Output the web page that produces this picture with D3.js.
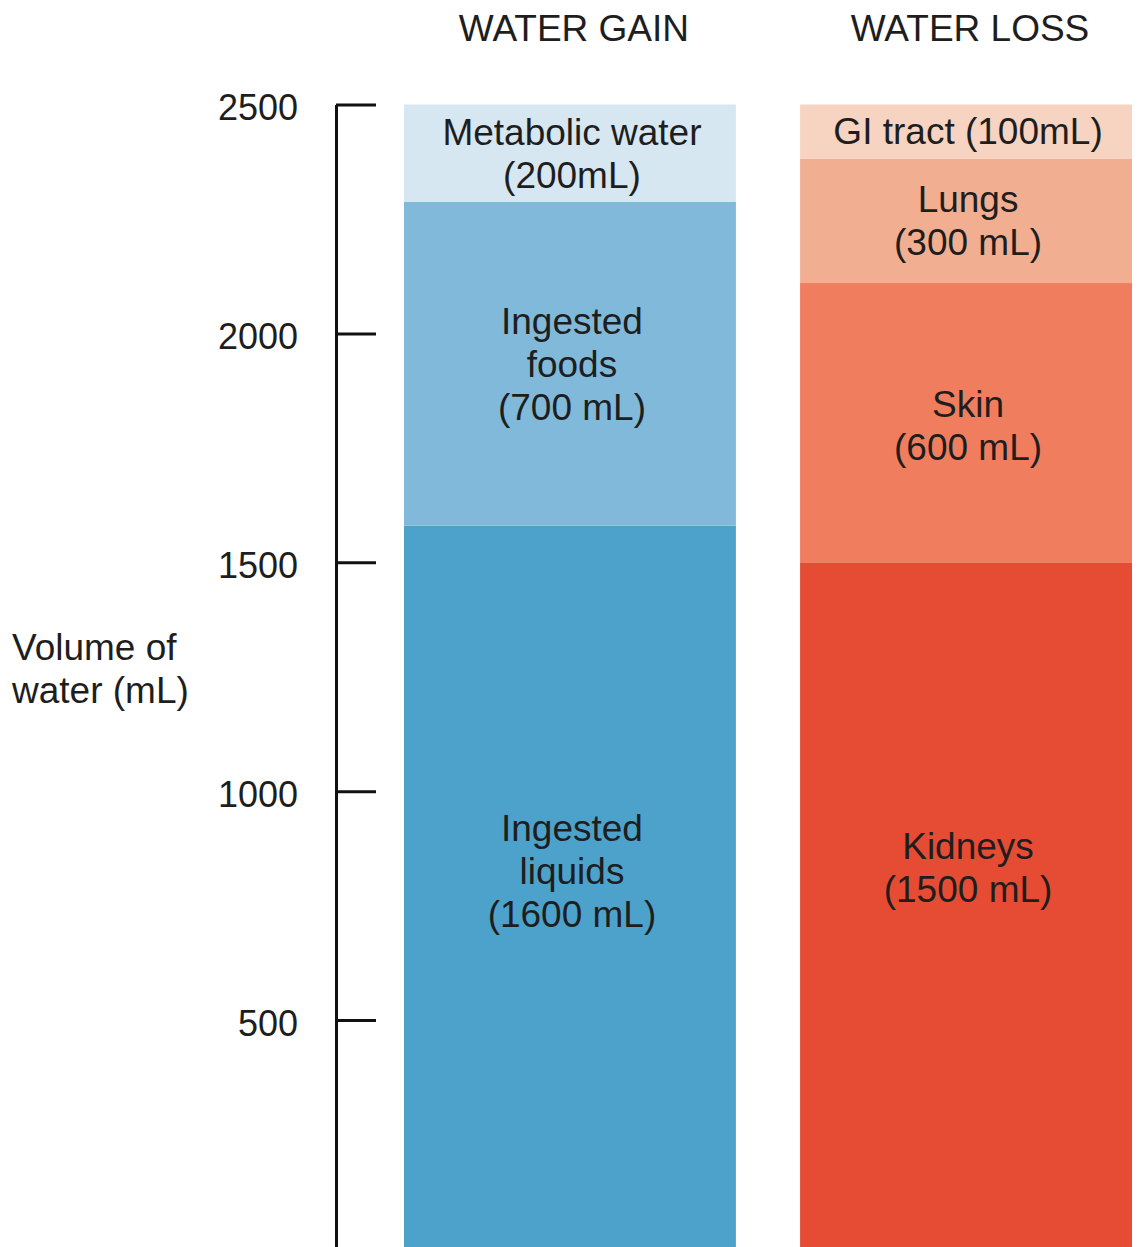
<!DOCTYPE html>
<html>
<head>
<meta charset="utf-8">
<script src="https://cdn.jsdelivr.net/npm/d3@7"></script>
<style>
  html, body { margin: 0; padding: 0; background: #fff; }
  svg { display: block; }
  text { font-family: "Liberation Sans", Arial, Helvetica, sans-serif; fill: #1e1e1e; }
</style>
</head>
<body>
<script>
// ---- data ----
const columns = ["WATER GAIN", "WATER LOSS"];
const gainSources = ["Ingested liquids", "Ingested foods", "Metabolic water"];
const gainValues = [1580, 707, 213];
const gainLabels = [["Ingested", "liquids", "(1600 mL)"], ["Ingested", "foods", "(700 mL)"], ["Metabolic water", "(200mL)"]];
const gainColors = ["#4da2cb", "#80b9d9", "#d6e7f2"];
const lossSources = ["Kidneys", "Skin", "Lungs", "GI tract"];
const lossValues = [1500, 610, 272, 118];
const lossLabels = [["Kidneys", "(1500 mL)"], ["Skin", "(600 mL)"], ["Lungs", "(300 mL)"], ["GI tract (100mL)"]];
const lossColors = ["#e64b33", "#ef7d5e", "#f2ae91", "#f7d3c1"];
const tickValues = [500, 1000, 1500, 2000, 2500];
const axisTitle = ["Volume of", "water (mL)"];

// ---- layout ----
const W = 1138, H = 1247;
const FS = 37;
const svg = d3.select("body").append("svg").attr("width", W).attr("height", H);

const y = d3.scaleLinear().domain([0, 2500]).range([1249, 104.5]);
const x = d3.scaleBand().domain(columns).range([404, 1132]).paddingInner(0.162).paddingOuter(0);

// axis
const axis = d3.axisLeft(y).tickValues(tickValues).tickSizeInner(-40).tickSizeOuter(0).tickPadding(38).tickFormat(d3.format("d"));
const ag = svg.append("g").attr("transform", "translate(336,0)").call(axis);
ag.select(".domain").attr("stroke", "#111").attr("stroke-width", 3);
ag.selectAll(".tick line").attr("stroke", "#111").attr("stroke-width", 3);
ag.selectAll(".tick text").attr("font-size", 36).attr("fill", "#1e1e1e")
  .attr("font-family", "'Liberation Sans', Arial, Helvetica, sans-serif").attr("dy", "0.42em");

// axis title
svg.append("text").attr("x", 12).attr("y", 647).attr("font-size", FS)
  .selectAll("tspan").data(axisTitle).join("tspan")
  .attr("x", 12).attr("dy", (d, i) => i === 0 ? "0.35em" : "1.17em").text(d => d);

// column titles
svg.selectAll(".coltitle").data(columns).join("text")
  .attr("class", "coltitle")
  .attr("x", d => x(d) + x.bandwidth() / 2 + 4)
  .attr("y", 28).attr("dy", "0.35em")
  .attr("text-anchor", "middle").attr("font-size", FS)
  .text(d => d);

function stackCol(col, values, labels, colors, bottomShift) {
  let cum = 0;
  const segs = values.map((v, i) => { const s = { y0: cum, y1: cum + v, lab: labels[i], col: colors[i], i }; cum += v; return s; });
  const g = svg.append("g");
  g.selectAll("rect").data(segs).join("rect")
    .attr("x", x(col)).attr("width", x.bandwidth())
    .attr("y", d => y(d.y1)).attr("height", d => y(d.y0) - y(d.y1))
    .attr("fill", d => d.col);
  const cx = x(col) + x.bandwidth() / 2 + 2;
  segs.forEach(s => {
    const bottom = s.y0 === 0;
    const midY = (y(s.y0) + y(s.y1)) / 2 - (bottom ? bottomShift : 0) + (s.i === 1 && !bottom && col === columns[1] ? 3 : 0);
    const n = s.lab.length, lh = 43;
    const t = g.append("text").attr("text-anchor", "middle").attr("font-size", FS);
    s.lab.forEach((line, k) => {
      t.append("tspan").attr("x", cx).attr("y", midY + (k - (n - 1) / 2) * lh).attr("dy", "0.35em").text(line);
    });
  });
}
stackCol(columns[0], gainValues, gainLabels, gainColors, 16);
stackCol(columns[1], lossValues, lossLabels, lossColors, 38);
</script>
</body>
</html>
